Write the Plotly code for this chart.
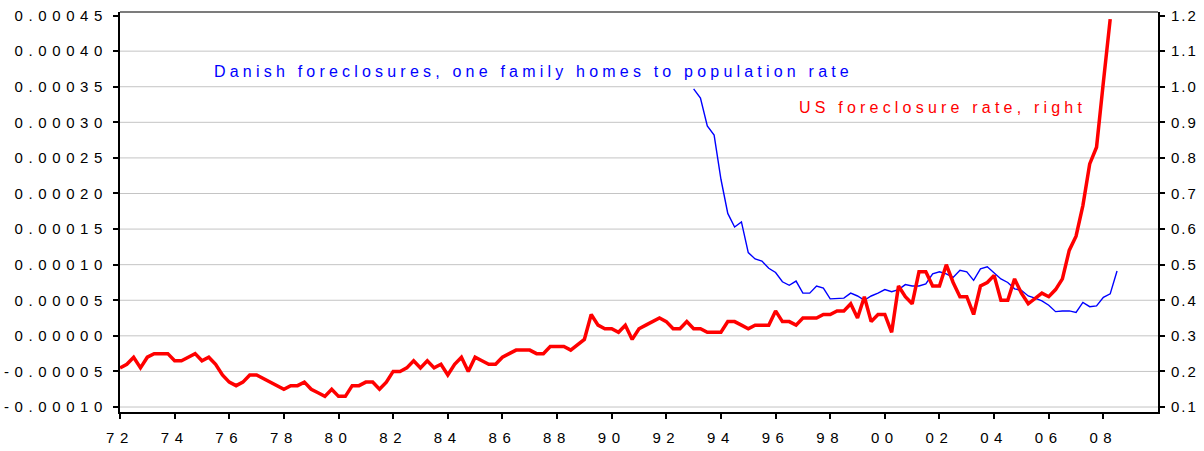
import plotly.graph_objects as go

# ---- data (quarterly) ----
us_start_year = 1972
us_foreclosure_rate = [
    0.21, 0.22, 0.24, 0.21,   # 1972
    0.24, 0.25, 0.25, 0.25,   # 1973
    0.23, 0.23, 0.24, 0.25,   # 1974
    0.23, 0.24, 0.22, 0.19,   # 1975
    0.17, 0.16, 0.17, 0.19,   # 1976
    0.19, 0.18, 0.17, 0.16,   # 1977
    0.15, 0.16, 0.16, 0.17,   # 1978
    0.15, 0.14, 0.13, 0.15,   # 1979
    0.13, 0.13, 0.16, 0.16,   # 1980
    0.17, 0.17, 0.15, 0.17,   # 1981
    0.20, 0.20, 0.21, 0.23,   # 1982
    0.21, 0.23, 0.21, 0.22,   # 1983
    0.19, 0.22, 0.24, 0.20,   # 1984
    0.24, 0.23, 0.22, 0.22,   # 1985
    0.24, 0.25, 0.26, 0.26,   # 1986
    0.26, 0.25, 0.25, 0.27,   # 1987
    0.27, 0.27, 0.26, 0.275,  # 1988
    0.29, 0.36, 0.33, 0.32,   # 1989
    0.32, 0.31, 0.33, 0.29,   # 1990
    0.32, 0.33, 0.34, 0.35,   # 1991
    0.34, 0.32, 0.32, 0.34,   # 1992
    0.32, 0.32, 0.31, 0.31,   # 1993
    0.31, 0.34, 0.34, 0.33,   # 1994
    0.32, 0.33, 0.33, 0.33,   # 1995
    0.37, 0.34, 0.34, 0.33,   # 1996
    0.35, 0.35, 0.35, 0.36,   # 1997
    0.36, 0.37, 0.37, 0.39,   # 1998
    0.35, 0.41, 0.34, 0.36,   # 1999
    0.36, 0.31, 0.44, 0.41,   # 2000
    0.39, 0.48, 0.48, 0.44,   # 2001
    0.44, 0.50, 0.45, 0.41,   # 2002
    0.41, 0.36, 0.44, 0.45,   # 2003
    0.47, 0.40, 0.40, 0.46,   # 2004
    0.42, 0.39, 0.405, 0.42,  # 2005
    0.41, 0.43, 0.46, 0.54,   # 2006
    0.58, 0.666, 0.783, 0.83, # 2007
    1.013, 1.19,              # 2008
]

dk_start_year = 1993
dk_foreclosure_pop_rate = [
    0.000347, 0.000334, 0.000295, 0.000282,   # 1993
    0.000220, 0.000172, 0.000153, 0.000160,   # 1994
    0.000117, 0.000108, 0.000105, 0.000095,   # 1995
    0.000089, 0.000076, 0.000071, 0.000077,   # 1996
    0.000060, 0.000060, 0.000070, 0.000067,   # 1997
    0.000052, 0.000052, 0.000053, 0.000060,   # 1998
    0.000056, 0.000050, 0.000056, 0.000060,   # 1999
    0.000065, 0.000062, 0.000065, 0.000072,   # 2000
    0.000070, 0.000070, 0.000073, 0.000087,   # 2001
    0.000090, 0.000087, 0.000082, 0.000092,   # 2002
    0.000090, 0.000078, 0.000094, 0.000097,   # 2003
    0.000089, 0.000080, 0.000075, 0.000066,   # 2004
    0.000064, 0.000056, 0.000053, 0.000049,   # 2005
    0.000043, 0.000034, 0.000035, 0.000035,   # 2006
    0.000033, 0.000047, 0.000041, 0.000042,   # 2007
    0.000054, 0.000059, 0.000091,             # 2008
]

x_tick_years = list(range(1972, 2009, 2))
x_tick_labels = ["72", "74", "76", "78", "80", "82", "84", "86", "88", "90",
                 "92", "94", "96", "98", "00", "02", "04", "06", "08"]

left_tick_vals = [-0.0001, -0.00005, 0.0, 0.00005, 0.0001, 0.00015, 0.0002,
                  0.00025, 0.0003, 0.00035, 0.0004, 0.00045]
left_tick_labels = ["-0.00010", "-0.00005", "0.00000", "0.00005", "0.00010",
                    "0.00015", "0.00020", "0.00025", "0.00030", "0.00035",
                    "0.00040", "0.00045"]

right_tick_vals = [0.1, 0.2, 0.3, 0.4, 0.5, 0.6, 0.7, 0.8, 0.9, 1.0, 1.1, 1.2]
right_tick_labels = ["0.1", "0.2", "0.3", "0.4", "0.5", "0.6", "0.7", "0.8",
                     "0.9", "1.0", "1.1", "1.2"]

label_dk = "Danish foreclosures, one family homes to population rate"
label_us = "US foreclosure rate, right"

# ---- derived ----
us_x = [us_start_year + i / 4 for i in range(len(us_foreclosure_rate))]
dk_x = [dk_start_year + i / 4 for i in range(len(dk_foreclosure_pop_rate))]

left_range = [-0.000107, 0.000455]
# right axis aligned so that right = 0.3 + 2000 * left
right_range = [0.3 + 2000 * left_range[0], 0.3 + 2000 * left_range[1]]

FONT = "Liberation Sans, Arial, sans-serif"
BLUE = "#0000FF"
RED = "#FF0000"

fig = go.Figure()
fig.add_trace(go.Scatter(x=dk_x, y=dk_foreclosure_pop_rate, mode="lines",
                         line=dict(color=BLUE, width=1.4), yaxis="y",
                         name=label_dk, showlegend=False))
fig.add_trace(go.Scatter(x=us_x, y=us_foreclosure_rate, mode="lines",
                         line=dict(color=RED, width=3.5), yaxis="y2",
                         name=label_us, showlegend=False))

shapes = []
for v in left_tick_vals[:-1]:
    shapes.append(dict(type="line", xref="paper", x0=0, x1=1, yref="y", y0=v, y1=v,
                       line=dict(color="#c4c4c4", width=1), layer="below"))
shapes.append(dict(type="line", xref="paper", x0=0, x1=1, yref="paper", y0=1, y1=1,
                   line=dict(color="#505050", width=1.5)))

fig.update_layout(
    width=1204, height=451,
    margin=dict(l=120, r=46, t=12, b=39, autoexpand=False),
    paper_bgcolor="white", plot_bgcolor="white",
    font=dict(family=FONT, size=15, color="black"),
    shapes=shapes,
    xaxis=dict(range=[1972, 2010], tickvals=x_tick_years, ticktext=x_tick_labels,
               ticks="outside", ticklen=5, tickwidth=1.5, tickcolor="black",
               showline=True, linewidth=2, linecolor="black", showgrid=False,
               zeroline=False, tickfont=dict(size=15), ticklabelstandoff=6,
               automargin=False),
    yaxis=dict(range=left_range, tickvals=left_tick_vals, ticktext=left_tick_labels,
               ticks="outside", ticklen=5, tickwidth=1.5, tickcolor="black",
               showline=True, linewidth=2, linecolor="black", showgrid=False,
               zeroline=False, tickfont=dict(size=15), ticklabelstandoff=2,
               automargin=False),
    yaxis2=dict(range=right_range, overlaying="y", side="right",
                tickvals=right_tick_vals, ticktext=right_tick_labels,
                ticks="outside", ticklen=5, tickwidth=1.5, tickcolor="black",
                showline=True, linewidth=2, linecolor="black", showgrid=False,
                zeroline=False, tickfont=dict(size=15), ticklabelstandoff=3,
                automargin=False),
    annotations=[
        dict(text=label_dk, x=1975.4, y=0.000371, xref="x", yref="y",
             xanchor="left", yanchor="middle", align="left", showarrow=False,
             borderpad=0, font=dict(color=BLUE, size=16, family=FONT)),
        dict(text=label_us, x=1996.83, y=0.942, xref="x", yref="y2",
             xanchor="left", yanchor="middle", align="left", showarrow=False,
             borderpad=0, font=dict(color=RED, size=16, family=FONT)),
    ],
)

post = """
document.body.style.margin = '0';
document.body.style.padding = '0';
document.body.style.overflow = 'hidden';
var gd = document.getElementById('{plot_id}');
function spaceText(){
  gd.querySelectorAll('.xtick text, .ytick text').forEach(function(t){ t.style.letterSpacing = '5.6px'; });
  gd.querySelectorAll('.y2tick text').forEach(function(t){ t.style.letterSpacing = '2px'; });
  gd.querySelectorAll('.annotation-text').forEach(function(t){ t.style.letterSpacing = '4.2px'; });
}
spaceText();
gd.on('plotly_afterplot', spaceText);
"""

fig.write_html("out.html", post_script=post, config={"displayModeBar": False})
